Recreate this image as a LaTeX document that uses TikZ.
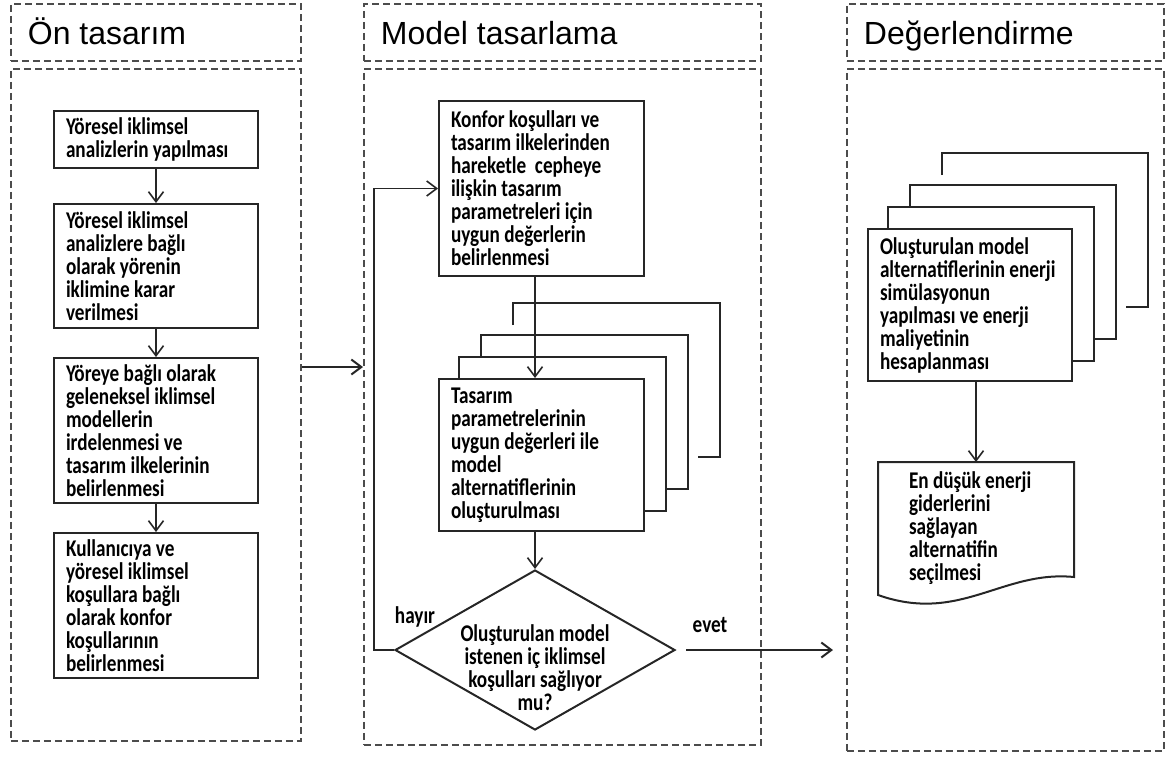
\documentclass[tikz,border=0pt]{standalone}
\usepackage{fontspec}
\setmainfont{Liberation Sans}
\newfontfamily\boxfont[FakeStretch=0.8]{Carlito}
\usepackage{tikz}
\usetikzlibrary{arrows.meta, shapes.geometric, calc}
\definecolor{ink}{gray}{0.15}
\definecolor{dashgray}{gray}{0.3}
\tikzstyle{panel}=[rectangle, draw=dashgray, line width=1.8pt, dash pattern=on 7pt off 4pt, anchor=north west, inner sep=0pt]
\tikzstyle{header}=[panel, align=flush left, inner xsep=17pt, minimum height=57pt, text height=30pt, text depth=5pt, font=\fontsize{32}{36}\selectfont]
\tikzstyle{stepbox}=[rectangle, draw=ink, line width=2pt, anchor=north west, align=flush left, inner xsep=12pt, inner ysep=0pt, font=\boxfont\bfseries\fontsize{24}{23}\selectfont]
\tikzstyle{stack}=[draw=ink, line width=2pt]
\tikzstyle{decision}=[diamond, draw=ink, line width=2pt, shape aspect=1.75, minimum width=280pt, minimum height=160pt, inner xsep=-30pt, inner ysep=-30pt, text width=160pt, text height=52pt, text depth=69pt, align=flush center, font=\boxfont\bfseries\fontsize{24}{23}\selectfont]
\tikzstyle{lbl}=[inner sep=0pt, font=\boxfont\bfseries\fontsize{24}{23}\selectfont]
\tikzstyle{arrow}=[draw=ink, line width=1.6pt, -{Straight Barb[length=10pt, width=15pt]}]

\begin{document}
\begin{tikzpicture}[x=1pt, y=-1pt]
\useasboundingbox (0,0) rectangle (1166,758);

\node[header, text width=256pt] (h1) at (10,3) {Ön tasarım};
\node[header, text width=363pt] (h2) at (363,3) {Model tasarlama};
\node[header, text width=283pt] (h3) at (846,3) {Değerlendirme};

\node[panel, minimum width=290pt, minimum height=672pt] (p1) at (10,68) {};
\node[panel, minimum width=397pt, minimum height=676pt] (p2) at (363,68) {};
\node[panel, minimum width=317pt, minimum height=682pt] (p3) at (846,68) {};

\node[stepbox, text width=180pt, minimum height=57pt] (y1) at (53,110) {Yöresel iklimsel\\analizlerin yapılması};
\node[stepbox, text width=180pt, minimum height=124pt] (y2) at (53,203) {Yöresel iklimsel\\analizlere bağlı\\olarak yörenin\\iklimine karar\\verilmesi};
\node[stepbox, text width=180pt, minimum height=145pt] (y3) at (53,357) {Yöreye bağlı olarak\\geleneksel iklimsel\\modellerin\\irdelenmesi ve\\tasarım ilkelerinin\\belirlenmesi};
\node[stepbox, text width=180pt, minimum height=145pt] (y4) at (53,532) {Kullanıcıya ve\\yöresel iklimsel\\koşullara bağlı\\olarak konfor\\koşullarının\\belirlenmesi};

\draw[arrow] (y1) -- (y2);
\draw[arrow] (y2) -- (y3);
\draw[arrow] (y3) -- (y4);

\node[stepbox, text width=181pt, minimum height=175pt] (ma) at (438,100) {Konfor koşulları ve\\tasarım ilkelerinden\\hareketle\ \ cepheye\\ilişkin tasarım\\parametreleri için\\uygun değerlerin\\belirlenmesi};
\node[stepbox, text width=181pt, minimum height=152pt] (mb) at (438,378) {Tasarım\\parametrelerinin\\uygun değerleri ile\\model\\alternatiflerinin\\oluşturulması};
\foreach \d in {21,43,75}
  \draw[stack] ($(mb.north west)+(\d,22-\d)$) |- ($(mb.north east)+(\d,-\d)$) |- ($(mb.south east)+(\d-22,-\d)$);
\node[decision] (dia) at (535,650) {Oluşturulan model\\istenen iç iklimsel\\koşulları sağlıyor\\mu?};

\draw[arrow] (ma.south -| dia.north) -- (mb.north -| dia.north);
\draw[arrow] (mb.south -| dia.north) -- (dia.north);
\draw[arrow] (dia.west) -- ++(-20,0) |- (ma.west);
\node[lbl] (no) at (415,617) {hayır};

\node[stepbox, text width=180pt, minimum height=152pt] (eb) at (867,228) {Oluşturulan model\\alternatiflerinin enerji\\simülasyonun\\yapılması ve enerji\\maliyetinin\\hesaplanması};
\foreach \d in {21,43,75}
  \draw[stack] ($(eb.north west)+(\d,22-\d)$) |- ($(eb.north east)+(\d,-\d)$) |- ($(eb.south east)+(\d-22,-\d)$);
\node[stepbox, draw=none, text width=134pt, inner xsep=30pt, minimum height=131pt] (doc) at (878,462) {En düşük enerji\\giderlerini\\sağlayan\\alternatifin\\seçilmesi};
\draw[stack] (doc.north west) -- (doc.north east) -- ([yshift=18pt]doc.south east) .. controls +(-72,-7) and +(82,29) .. (doc.south west) -- cycle;
\draw[arrow] (eb.south -| doc.north) -- (doc.north);

\coordinate (mid) at (0,367);
\draw[arrow, line width=2pt] (p1.east |- mid) -- (p2.west |- mid);
\draw[arrow, line width=2pt, shorten <=10pt, shorten >=13pt] (dia.east) -- node[lbl, pos=0.2, above=16pt] (yes) {evet} (dia.east -| p3.west);
\end{tikzpicture}
\end{document}
